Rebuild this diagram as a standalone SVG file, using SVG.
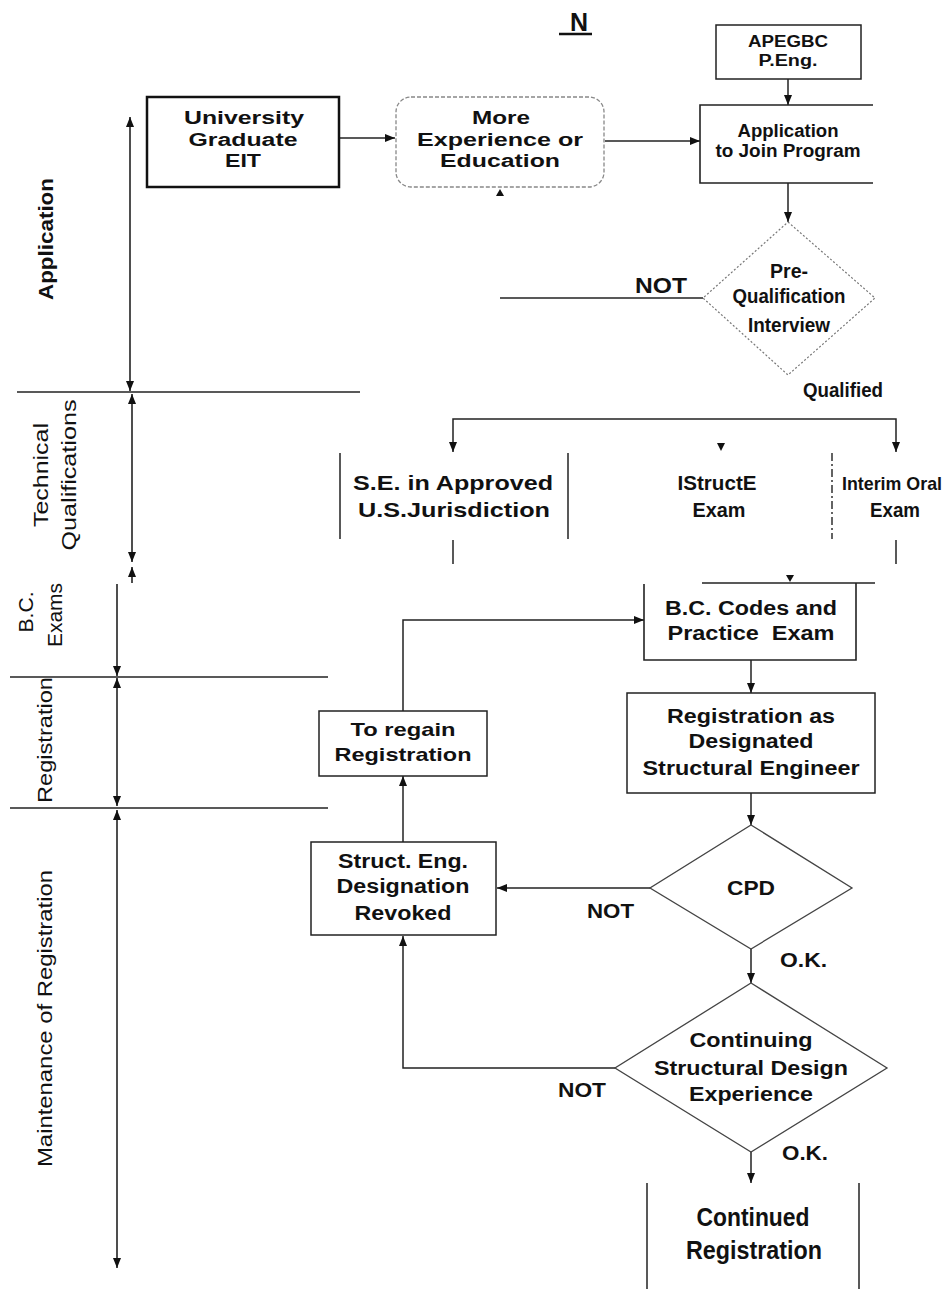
<svg xmlns="http://www.w3.org/2000/svg" width="952" height="1289" viewBox="0 0 952 1289">
<defs>
<style>
text{font-family:"Liberation Sans",Arial,sans-serif;fill:#111;}
.b{font-weight:bold;}
.m{text-anchor:middle;}
.box{fill:#fff;stroke:#222;stroke-width:1.5;}
.ln{fill:none;stroke:#222;stroke-width:1.5;}
.con{fill:none;stroke:#222;stroke-width:1.5;}
.ax{fill:none;stroke:#222;stroke-width:1.6;}
.tri{fill:#111;}
</style>
<marker id="arr" viewBox="0 0 10 8" refX="10" refY="4" markerWidth="10" markerHeight="8" markerUnits="userSpaceOnUse" orient="auto-start-reverse">
<path d="M0,0 L10,4 L0,8 z" fill="#111"/>
</marker>
</defs>
<rect width="952" height="1289" fill="#fff"/>

<g id="title">
<text x="579" y="31" class="b m" font-size="25">N</text>
<line x1="559" y1="34" x2="592" y2="34" stroke="#111" stroke-width="2.5"/>
</g>

<g id="sections">
<line class="ln" x1="17" y1="392" x2="360" y2="392"/>
<line class="ln" x1="10" y1="677" x2="328" y2="677"/>
<line class="ln" x1="10" y1="808" x2="328" y2="808"/>
<path class="ax" d="M130,117 V391" marker-start="url(#arr)" marker-end="url(#arr)"/>
<path class="ax" d="M132,394 V562" marker-start="url(#arr)" marker-end="url(#arr)"/>
<path class="ax" d="M132,567 V583" marker-start="url(#arr)"/>
<path class="ax" d="M117,584 V676" marker-end="url(#arr)"/>
<path class="ax" d="M117,678 V806" marker-start="url(#arr)" marker-end="url(#arr)"/>
<path class="ax" d="M117,810 V1268" marker-start="url(#arr)" marker-end="url(#arr)"/>
<text transform="translate(53,239) rotate(-90)" class="b m" font-size="20" textLength="122" lengthAdjust="spacingAndGlyphs">Application</text>
<text transform="translate(48,475) rotate(-90)" class="m" font-size="20" textLength="104" lengthAdjust="spacingAndGlyphs">Technical</text>
<text transform="translate(76,475) rotate(-90)" class="m" font-size="20" textLength="151" lengthAdjust="spacingAndGlyphs">Qualifications</text>
<text transform="translate(33,612) rotate(-90)" class="m" font-size="20" textLength="41" lengthAdjust="spacingAndGlyphs">B.C.</text>
<text transform="translate(62,647) rotate(-90)" font-size="20" textLength="64" lengthAdjust="spacingAndGlyphs">Exams</text>
<text transform="translate(52,740) rotate(-90)" class="m" font-size="20" textLength="126" lengthAdjust="spacingAndGlyphs">Registration</text>
<text transform="translate(52,1167) rotate(-90)" font-size="20" textLength="297" lengthAdjust="spacingAndGlyphs">Maintenance of Registration</text>
</g>

<g id="connectors">
<path class="con" d="M339,138 H395" marker-end="url(#arr)"/>
<path class="con" d="M605,141 H700" marker-end="url(#arr)"/>
<path class="con" d="M788,79 V105" marker-end="url(#arr)"/>
<path class="con" d="M788,183 V222" marker-end="url(#arr)"/>
<path class="con" d="M500,298 H703"/>
<path class="con" d="M453,452 V419 H896 V452" marker-start="url(#arr)" marker-end="url(#arr)"/>
<path class="con" d="M453,540 V564"/>
<path class="con" d="M896,540 V564"/>
<path class="con" d="M403,711 V620 H644" marker-end="url(#arr)"/>
<path class="con" d="M751,660 V693" marker-end="url(#arr)"/>
<path class="con" d="M751,793 V825" marker-end="url(#arr)"/>
<path class="con" d="M650,888 H497" marker-end="url(#arr)"/>
<path class="con" d="M751,949 V983" marker-end="url(#arr)"/>
<path class="con" d="M615,1068 H403 V936" marker-end="url(#arr)"/>
<path class="con" d="M403,842 V776" marker-end="url(#arr)"/>
<path class="con" d="M751,1152 V1183" marker-end="url(#arr)"/>
<polygon class="tri" points="496,196 504,196 500,189"/>
<polygon class="tri" points="717,443 725,443 721,451"/>
<polygon class="tri" points="786,575 794,575 790,582"/>
</g>

<g id="n-university">
<rect x="147" y="97" width="192" height="90" fill="#fff" stroke="#111" stroke-width="2.5"/>
<text x="244" y="124" class="b m" font-size="18" textLength="120" lengthAdjust="spacingAndGlyphs">University</text>
<text x="243" y="146" class="b m" font-size="18" textLength="109" lengthAdjust="spacingAndGlyphs">Graduate</text>
<text x="243" y="167" class="b m" font-size="18" textLength="36" lengthAdjust="spacingAndGlyphs">EIT</text>
</g>

<g id="n-more">
<rect x="396" y="97" width="208" height="90" rx="15" fill="#fff" stroke="#888" stroke-width="1.3" stroke-dasharray="4 2"/>
<text x="501" y="124" class="b m" font-size="18" textLength="58" lengthAdjust="spacingAndGlyphs">More</text>
<text x="500" y="146" class="b m" font-size="18" textLength="166" lengthAdjust="spacingAndGlyphs">Experience or</text>
<text x="500" y="167" class="b m" font-size="18" textLength="120" lengthAdjust="spacingAndGlyphs">Education</text>
</g>

<g id="n-apegbc">
<rect class="box" x="716" y="25" width="145" height="54"/>
<text x="788" y="47" class="b m" font-size="16" textLength="80" lengthAdjust="spacingAndGlyphs">APEGBC</text>
<text x="788" y="66" class="b m" font-size="16" textLength="59" lengthAdjust="spacingAndGlyphs">P.Eng.</text>
</g>

<g id="n-application">
<path d="M873,105 H700 V183 H873" fill="#fff" stroke="#222" stroke-width="1.6"/>
<text x="788" y="137" class="b m" font-size="18" textLength="101" lengthAdjust="spacingAndGlyphs">Application</text>
<text x="788" y="157" class="b m" font-size="18" textLength="145" lengthAdjust="spacingAndGlyphs">to Join Program</text>
</g>

<g id="n-prequal">
<polygon points="788,222 875,298 788,375 703,298" fill="#fff" stroke="#777" stroke-width="1.2" stroke-dasharray="2 2"/>
<text x="789" y="278" class="b m" font-size="20" textLength="38" lengthAdjust="spacingAndGlyphs">Pre-</text>
<text x="789" y="303" class="b m" font-size="20" textLength="113" lengthAdjust="spacingAndGlyphs">Qualification</text>
<text x="789" y="332" class="b m" font-size="20" textLength="82" lengthAdjust="spacingAndGlyphs">Interview</text>
</g>

<g id="labels">
<text x="635" y="293" class="b" font-size="22" textLength="52" lengthAdjust="spacingAndGlyphs">NOT</text>
<text x="803" y="397" class="b" font-size="20" textLength="80" lengthAdjust="spacingAndGlyphs">Qualified</text>
<text x="587" y="918" class="b" font-size="20" textLength="47" lengthAdjust="spacingAndGlyphs">NOT</text>
<text x="780" y="967" class="b" font-size="20" textLength="47" lengthAdjust="spacingAndGlyphs">O.K.</text>
<text x="558" y="1097" class="b" font-size="20" textLength="48" lengthAdjust="spacingAndGlyphs">NOT</text>
<text x="782" y="1160" class="b" font-size="20" textLength="46" lengthAdjust="spacingAndGlyphs">O.K.</text>
</g>

<g id="n-se">
<line class="ln" x1="340" y1="453" x2="340" y2="539"/>
<line class="ln" x1="568" y1="453" x2="568" y2="539"/>
<text x="453" y="490" class="b m" font-size="21" textLength="200" lengthAdjust="spacingAndGlyphs">S.E. in Approved</text>
<text x="454" y="517" class="b m" font-size="21" textLength="192" lengthAdjust="spacingAndGlyphs">U.S.Jurisdiction</text>
</g>

<g id="n-istructe">
<text x="717" y="490" class="b m" font-size="21" textLength="79" lengthAdjust="spacingAndGlyphs">IStructE</text>
<text x="719" y="517" class="b m" font-size="21" textLength="53" lengthAdjust="spacingAndGlyphs">Exam</text>
</g>

<g id="n-oral">
<line x1="832" y1="453" x2="832" y2="539" stroke="#222" stroke-width="1.4" stroke-dasharray="8 3 2 3"/>
<text x="892" y="490" class="b m" font-size="19" textLength="100" lengthAdjust="spacingAndGlyphs">Interim Oral</text>
<text x="895" y="517" class="b m" font-size="20" textLength="50" lengthAdjust="spacingAndGlyphs">Exam</text>
</g>

<g id="n-bccodes">
<path class="ln" d="M702,583 H875"/>
<path d="M644,584 V660 H856 V583" fill="none" stroke="#222" stroke-width="1.6"/>
<text x="751" y="615" class="b m" font-size="20" textLength="172" lengthAdjust="spacingAndGlyphs">B.C. Codes and</text>
<text x="751" y="640" class="b m" font-size="20" textLength="167" lengthAdjust="spacingAndGlyphs" xml:space="preserve">Practice  Exam</text>
</g>

<g id="n-registration">
<rect class="box" x="627" y="693" width="248" height="100"/>
<text x="751" y="723" class="b m" font-size="20" textLength="168" lengthAdjust="spacingAndGlyphs">Registration as</text>
<text x="751" y="748" class="b m" font-size="20" textLength="125" lengthAdjust="spacingAndGlyphs">Designated</text>
<text x="751" y="775" class="b m" font-size="20" textLength="217" lengthAdjust="spacingAndGlyphs">Structural Engineer</text>
</g>

<g id="n-cpd">
<polygon points="751,825 852,888 751,949 650,888" fill="#fff" stroke="#444" stroke-width="1.3"/>
<text x="751" y="895" class="b m" font-size="21" textLength="48" lengthAdjust="spacingAndGlyphs">CPD</text>
</g>

<g id="n-continuing">
<polygon points="751,983 887,1068 751,1152 615,1068" fill="#fff" stroke="#444" stroke-width="1.3"/>
<text x="751" y="1047" class="b m" font-size="20" textLength="123" lengthAdjust="spacingAndGlyphs">Continuing</text>
<text x="751" y="1075" class="b m" font-size="20" textLength="194" lengthAdjust="spacingAndGlyphs">Structural Design</text>
<text x="751" y="1101" class="b m" font-size="20" textLength="124" lengthAdjust="spacingAndGlyphs">Experience</text>
</g>

<g id="n-continued">
<line class="ln" x1="647" y1="1183" x2="647" y2="1289"/>
<line class="ln" x1="859" y1="1183" x2="859" y2="1289"/>
<text x="753" y="1226" class="b m" font-size="26" textLength="113" lengthAdjust="spacingAndGlyphs">Continued</text>
<text x="754" y="1259" class="b m" font-size="26" textLength="136" lengthAdjust="spacingAndGlyphs">Registration</text>
</g>

<g id="n-revoked">
<rect class="box" x="311" y="842" width="185" height="93"/>
<text x="403" y="868" class="b m" font-size="20" textLength="130" lengthAdjust="spacingAndGlyphs">Struct. Eng.</text>
<text x="403" y="893" class="b m" font-size="20" textLength="133" lengthAdjust="spacingAndGlyphs">Designation</text>
<text x="403" y="920" class="b m" font-size="20" textLength="97" lengthAdjust="spacingAndGlyphs">Revoked</text>
</g>

<g id="n-regain">
<rect class="box" x="319" y="711" width="168" height="65"/>
<text x="403" y="736" class="b m" font-size="19" textLength="105" lengthAdjust="spacingAndGlyphs">To regain</text>
<text x="403" y="761" class="b m" font-size="19" textLength="137" lengthAdjust="spacingAndGlyphs">Registration</text>
</g>
</svg>
